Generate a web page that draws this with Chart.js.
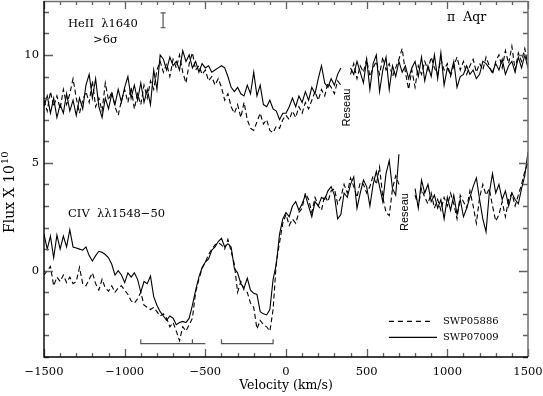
<!DOCTYPE html>
<html><head><meta charset="utf-8">
<script src="https://cdn.jsdelivr.net/npm/chart.js@4.4.0/dist/chart.umd.min.js"></script>
<style>html,body{margin:0;padding:0;background:#fff;}canvas{display:block;}</style>
</head><body>
<canvas id="c" width="543" height="396"></canvas>
<script>
// Velocity grid (km/s)
const velocity = [
-1500,-1480,-1460,-1440,-1420,-1400,-1380,-1360,-1340,-1320,
-1300,-1280,-1260,-1240,-1220,-1200,-1180,-1160,-1140,-1120,
-1100,-1080,-1060,-1040,-1020,-1000,-980,-960,-940,-920,
-900,-880,-860,-840,-820,-800,-780,-760,-740,-720,
-700,-680,-660,-640,-620,-600,-580,-560,-540,-520,
-500,-480,-460,-440,-420,-400,-380,-360,-340,-320,
-300,-280,-260,-240,-220,-200,-180,-160,-140,-120,
-100,-80,-60,-40,-20,0,20,40,60,80,
100,120,140,160,180,200,220,240,260,280,
300,320,340,360,380,400,420,440,460,480,
500,520,540,560,580,600,620,640,660,680,
700,720,740,760,780,800,820,840,860,880,
900,920,940,960,980,1000,1020,1040,1060,1080,
1100,1120,1140,1160,1180,1200,1220,1240,1260,1280,
1300,1320,1340,1360,1380,1400,1420,1440,1460,1480,
1500];

// HeII 1640 – SWP07009 (solid)
const heiiSWP07009 = [
7.6,8.1,7.3,8.0,7.1,7.7,7.3,8.2,7.4,7.9,
7.2,8.0,7.5,8.6,9.1,8.0,8.9,7.6,7.1,8.0,
7.5,8.2,7.7,8.4,7.8,8.5,9.0,8.0,8.6,7.9,
8.7,7.8,8.4,7.7,9.3,8.4,10.0,9.8,9.3,9.9,
9.5,9.7,9.3,10.2,9.7,10.0,9.4,9.7,9.2,9.6,
9.4,9.5,9.2,9.3,9.4,9.5,9.4,9.0,8.5,8.3,
8.5,8.2,8.1,8.6,8.2,9.2,8.1,8.6,7.7,7.6,
7.9,7.5,7.4,7.0,7.3,7.3,7.6,8.0,7.6,8.1,
7.8,8.3,7.9,8.5,8.2,8.9,9.5,8.7,8.5,8.9,
8.6,9.1,9.4,null,null,9.4,9.1,9.7,9.2,8.7,
9.8,8.4,9.6,10.0,8.3,9.3,9.9,8.4,9.5,9.0,
9.7,9.2,9.5,8.9,9.4,9.7,9.0,9.9,8.8,9.5,
9.0,10.0,8.9,10.1,8.6,9.4,9.1,9.7,8.5,9.0,
9.1,9.5,9.1,9.3,8.9,9.1,9.7,9.6,9.4,9.2,
9.6,9.3,9.8,9.1,9.5,9.7,9.2,9.9,9.4,10.0,
9.4];

// HeII 1640 – SWP05886 (dashed)
const heiiSWP05886 = [
7.9,7.4,8.3,7.6,8.1,7.5,8.4,7.7,8.2,8.9,
8.0,7.3,7.9,8.3,7.8,8.8,7.6,8.0,7.4,8.7,
7.9,8.3,7.6,7.2,7.9,8.4,7.8,8.5,7.5,8.2,
7.7,8.6,8.0,8.8,8.4,9.3,9.7,9.2,9.6,9.0,
9.8,9.4,10.0,9.2,8.7,9.6,10.1,9.3,9.5,9.1,
9.3,8.8,9.0,8.6,8.9,8.5,7.9,8.2,7.6,7.3,
7.7,7.1,7.8,7.0,6.6,6.5,6.9,7.3,6.8,7.0,
6.5,6.4,6.7,6.6,7.0,7.2,7.0,7.4,7.1,7.6,
7.3,7.8,7.5,7.9,8.3,7.9,8.4,8.1,8.7,8.5,
8.2,8.8,8.6,null,null,9.1,9.6,8.9,9.5,9.2,
9.8,9.0,9.4,9.7,9.1,9.9,9.3,9.6,9.0,9.4,
9.8,10.3,9.2,8.4,9.3,8.5,9.5,9.1,9.7,9.3,
9.9,9.4,9.1,9.8,9.3,9.6,9.0,9.5,9.9,9.3,
9.7,9.1,9.5,9.8,9.2,9.6,9.3,9.9,9.5,9.1,
9.7,10.0,9.4,10.2,9.6,10.4,9.3,10.1,9.7,10.3,
9.5];

// CIV 1548-50 – SWP07009 (solid)
const civSWP07009 = [
1.7,1.0,1.6,0.6,1.65,1.0,1.6,1.1,1.9,1.1,
1.05,1.0,0.95,1.1,0.7,0.45,0.7,0.9,0.85,0.75,
0.6,0.3,-0.2,0.0,-0.2,-0.55,-0.1,-0.3,-0.1,-0.4,
-1.0,-0.5,-0.6,-0.25,-1.2,-1.6,-1.9,-2.1,-2.3,-2.1,
-2.2,-2.5,-2.4,-2.35,-2.4,-2.2,-1.6,-0.9,-0.3,0.15,
0.4,0.55,0.95,1.1,1.35,1.5,1.1,1.25,1.1,0.1,
-0.1,-0.6,-0.8,-0.35,-0.9,-1.05,-1.1,-1.9,-2.0,-2.05,
-1.8,-0.4,0.3,1.7,2.4,2.7,2.5,3.0,3.2,2.8,
3.1,3.5,3.0,2.5,3.2,3.0,3.4,3.3,3.7,3.9,
3.5,2.4,2.6,3.6,3.4,4.0,4.35,2.9,3.6,4.2,
3.9,3.0,4.0,4.6,3.9,3.2,4.5,5.1,3.8,3.5,
5.4,null,null,null,null,3.8,2.9,4.2,3.6,4.0,
3.2,3.5,2.9,3.3,2.4,3.4,2.8,3.5,2.6,3.3,
2.5,2.9,3.4,3.9,4.3,3.3,2.4,1.8,3.6,4.5,
3.6,4.0,3.3,3.7,3.0,3.6,3.3,3.1,3.8,4.4,
5.5];

// CIV 1548-50 – SWP05886 (dashed)
const civSWP05886 = [
-0.2,0.0,0.2,-0.7,-0.3,-0.5,-0.2,-0.55,-0.3,-0.6,
-0.5,0.15,-0.6,-0.7,-0.4,-0.1,-0.6,-0.9,-0.4,-0.8,
-0.95,-0.7,-1.0,-0.8,-0.7,-0.9,-1.1,-1.4,-1.5,-1.3,
-1.0,-1.6,-1.7,-1.8,-1.7,-1.9,-2.1,-2.0,-2.2,-2.6,
-2.4,-2.8,-3.25,-2.6,-2.8,-2.5,-2.2,-1.0,-0.4,0.1,
0.4,0.75,1.0,1.2,1.3,1.2,1.0,1.45,0.9,0.3,
-1.0,-0.5,-0.9,-1.0,-1.5,-1.7,-2.7,-2.3,-2.5,-2.6,
-2.8,-1.8,0.4,1.3,2.2,2.6,2.1,2.4,2.2,2.7,
2.9,3.6,3.3,2.7,3.4,3.0,2.8,3.5,3.2,3.7,
3.8,3.1,3.4,4.0,3.6,4.3,3.9,3.4,4.1,4.0,
3.6,3.9,4.4,4.0,4.8,3.4,2.7,2.55,3.8,4.4,
4.0,null,null,null,null,3.5,3.0,3.8,3.4,3.1,
3.6,2.9,3.3,2.8,3.4,3.0,3.6,3.1,2.4,3.5,
3.2,2.9,3.7,3.0,2.2,3.4,4.0,3.5,3.8,3.0,
2.3,2.6,3.2,2.5,3.3,3.6,3.0,3.5,4.0,4.6,
5.0];

// Absorption component brackets (velocity, flux)
const bracket1X = [-900,-900,-580,-580,-580,-500];
const bracket1Y = [-3.18,-3.38,-3.38,-3.18,-3.38,-3.38];
const bracket2X = [-400,-400,-80,-80];
const bracket2Y = [-3.18,-3.38,-3.38,-3.18];

const xTickLabels = [-1500,-1000,-500,0,500,1000,1500];
const yTickLabels = [0,5,10];
const seriesNames = ['SWP05886','SWP07009'];

const pts = arr => velocity.map((v,i)=>({x:v,y:arr[i]}));
const pairs = (xs,ys) => xs.map((v,i)=>({x:v,y:ys[i]}));

const SERIF = "'DejaVu Serif', serif";
const TICKC = '#606060';

const decor = {
  id:'decor',
  afterDatasetsDraw(chart){
    const {ctx, chartArea:a, scales:{x,y}} = chart;
    ctx.save();
    // minor / major ticks, inside, all four sides
    ctx.strokeStyle = TICKC; ctx.lineWidth = 1.3;
    ctx.beginPath();
    for (let v=-1500; v<=1500; v+=100){
      const px = Math.round(x.getPixelForValue(v))+0.5;
      const L = (v%500===0)?8:4;
      ctx.moveTo(px,a.bottom); ctx.lineTo(px,a.bottom-L);
      ctx.moveTo(px,a.top); ctx.lineTo(px,a.top+L);
    }
    for (let v=-4; v<=12; v++){
      const py = Math.round(y.getPixelForValue(v))+0.5;
      const L = (v%5===0)?9:5;
      ctx.moveTo(a.left,py); ctx.lineTo(a.left+L,py);
      ctx.moveTo(a.right,py); ctx.lineTo(a.right-L,py);
    }
    ctx.stroke();
    // frame
    ctx.lineWidth = 1.5; ctx.strokeStyle = '#707070';
    ctx.beginPath();
    ctx.moveTo(a.left,a.top+0.5); ctx.lineTo(a.right,a.top+0.5);
    ctx.moveTo(a.right,a.top); ctx.lineTo(a.right,a.bottom);
    ctx.stroke();
    ctx.strokeStyle = '#000'; ctx.lineWidth = 1.4;
    ctx.beginPath();
    ctx.moveTo(a.left,a.top); ctx.lineTo(a.left,a.bottom);
    ctx.lineTo(a.right,a.bottom);
    ctx.stroke();

    // error bar
    const ex = x.getPixelForValue(-762);
    const e1 = y.getPixelForValue(11.95), e2 = y.getPixelForValue(11.26);
    ctx.strokeStyle = '#555'; ctx.lineWidth = 1.2;
    ctx.beginPath();
    ctx.moveTo(ex,e1); ctx.lineTo(ex,e2);
    ctx.moveTo(ex-2.5,e1); ctx.lineTo(ex+2.5,e1);
    ctx.moveTo(ex-2.5,e2); ctx.lineTo(ex+2.5,e2);
    ctx.stroke();

    // texts
    ctx.fillStyle = '#000';
    ctx.textBaseline = 'alphabetic'; ctx.textAlign = 'left';
    ctx.font = "11.5px " + SERIF;
    ctx.fillText('HeII  λ1640', x.getPixelForValue(-1351), y.getPixelForValue(11.29));
    ctx.fillText('>6σ', x.getPixelForValue(-1196), y.getPixelForValue(10.55));
    ctx.font = "12.5px " + SERIF;
    ctx.fillText('π  Aqr', x.getPixelForValue(998), y.getPixelForValue(11.57));
    ctx.font = "11.5px " + SERIF;
    ctx.fillText('CIV  λλ1548−50', x.getPixelForValue(-1351), y.getPixelForValue(2.49));

    // y axis title with superscript
    ctx.save();
    ctx.translate(14, (a.top + a.bottom)/2 + 54);
    ctx.rotate(-Math.PI/2);
    ctx.textAlign = 'left'; ctx.textBaseline = 'alphabetic';
    ctx.font = "14px " + SERIF;
    const t1 = 'Flux X 10';
    ctx.fillText(t1, 0, 0);
    const w1 = ctx.measureText(t1).width;
    ctx.font = "10px " + SERIF;
    ctx.fillText('10', w1 + 1, -6);
    ctx.restore();

    ctx.font = "11px 'Liberation Sans', Arial, sans-serif";
    ctx.textAlign = 'center'; ctx.textBaseline = 'middle';
    [[378,7.56],[738,2.72]].forEach(([vx,vy])=>{
      ctx.save();
      ctx.translate(x.getPixelForValue(vx), y.getPixelForValue(vy));
      ctx.rotate(-Math.PI/2);
      ctx.fillText('Reseau',0,0);
      ctx.restore();
    });

    // legend
    ctx.strokeStyle = '#000'; ctx.lineWidth = 1.1;
    const lx0 = x.getPixelForValue(638);
    const ly1 = y.getPixelForValue(-2.35), ly2 = y.getPixelForValue(-3.09);
    ctx.setLineDash([5,4]);
    ctx.beginPath(); ctx.moveTo(lx0,ly1); ctx.lineTo(x.getPixelForValue(911),ly1); ctx.stroke();
    ctx.setLineDash([]);
    ctx.beginPath(); ctx.moveTo(lx0,ly2); ctx.lineTo(x.getPixelForValue(936),ly2); ctx.stroke();
    ctx.font = "10px " + SERIF;
    ctx.textAlign = 'left'; ctx.textBaseline = 'middle';
    ctx.fillText(seriesNames[0], x.getPixelForValue(973), ly1);
    ctx.fillText(seriesNames[1], x.getPixelForValue(973), ly2);
    ctx.restore();
  }
};

const lineDs = (label, arr, dashed) => ({
  label, data: pts(arr), borderColor:'#000', borderWidth:1.1,
  borderDash: dashed ? [5,3] : [], pointRadius:0, spanGaps:false, tension:0, fill:false
});

new Chart(document.getElementById('c'), {
  type:'line',
  data:{datasets:[
    lineDs('HeII '+seriesNames[0], heiiSWP05886, true),
    lineDs('HeII '+seriesNames[1], heiiSWP07009, false),
    lineDs('CIV '+seriesNames[0], civSWP05886, true),
    lineDs('CIV '+seriesNames[1], civSWP07009, false),
    {label:'b1', data:pairs(bracket1X,bracket1Y), borderColor:'#555', borderWidth:1.2, pointRadius:0, tension:0, fill:false},
    {label:'b2', data:pairs(bracket2X,bracket2Y), borderColor:'#555', borderWidth:1.2, pointRadius:0, tension:0, fill:false}
  ]},
  options:{
    responsive:false, animation:false, devicePixelRatio:1,
    layout:{padding:{top:1,right:15,left:0,bottom:0}},
    plugins:{legend:{display:false}, tooltip:{enabled:false}},
    scales:{
      x:{type:'linear', min:-1500, max:1500,
        afterBuildTicks(s){ s.ticks = xTickLabels.map(v=>({value:v})); },
        afterFit(s){ s.height = 39; s.paddingLeft = 0; s.paddingRight = 0; },
        grid:{display:false, drawTicks:false}, border:{display:false},
        ticks:{font:{family:SERIF,size:11.5}, color:'#000', padding:8, maxRotation:0, autoSkip:false,
          callback:v => v<0 ? '−'+Math.abs(v) : String(v)},
        title:{display:true, text:'Velocity (km/s)', font:{family:SERIF,size:12.5}, color:'#000', padding:{top:0,bottom:3}}
      },
      y:{type:'linear', min:-4, max:12.5,
        afterBuildTicks(s){ s.ticks = yTickLabels.map(v=>({value:v})); },
        afterFit(s){ s.width = 44; s.paddingTop = 0; s.paddingBottom = 0; },
        grid:{display:false, drawTicks:false}, border:{display:false},
        ticks:{font:{family:SERIF,size:11.5}, color:'#000', padding:5, autoSkip:false,
          callback:v => String(v)},
        title:{display:false}
      }
    }
  },
  plugins:[decor]
});
</script>
</body></html>
